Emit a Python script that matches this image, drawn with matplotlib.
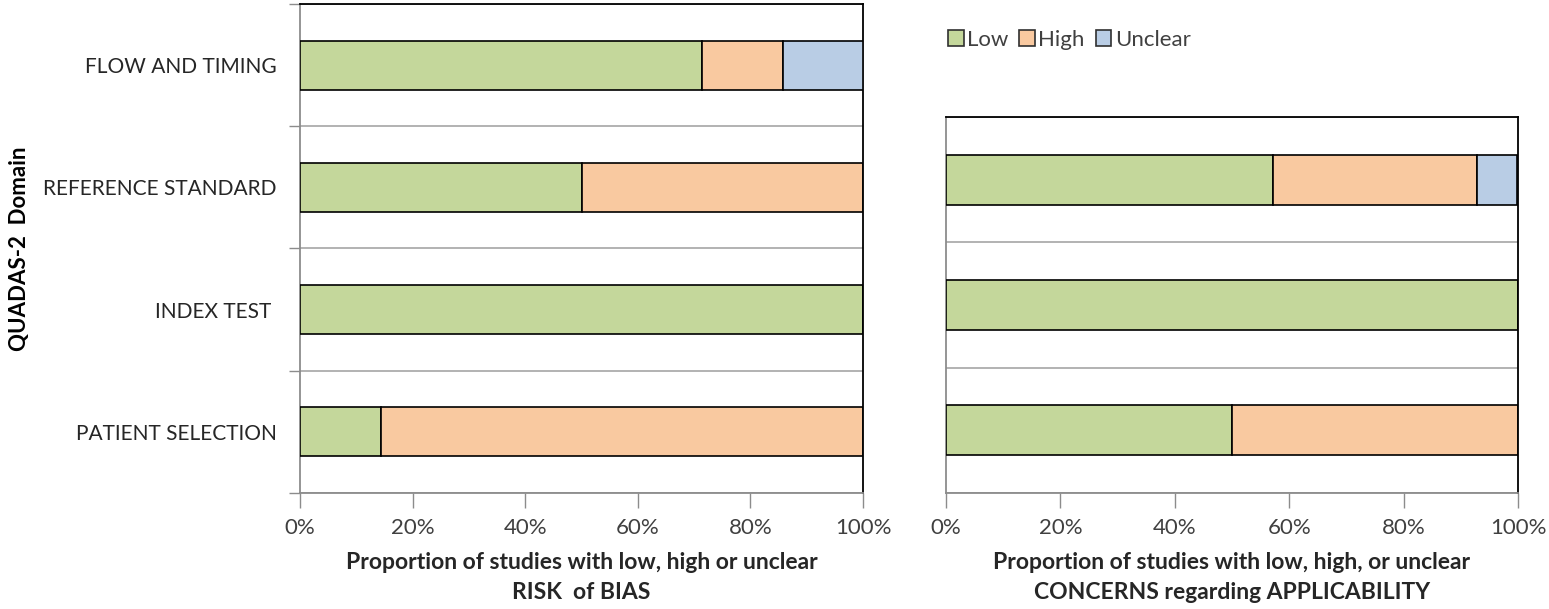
"""QUADAS-2 risk of bias and applicability concerns, stacked bars."""

import numpy as np
import matplotlib
matplotlib.use("Agg")
import matplotlib.pyplot as plt
from matplotlib.patches import Patch
from matplotlib.ticker import FixedLocator, PercentFormatter

plt.rcParams["font.family"] = ["Lato", "DejaVu Sans"]

# risk of bias (bottom to top)
bias_domains = ["PATIENT SELECTION", "INDEX TEST ", "REFERENCE STANDARD", "FLOW AND TIMING"]
bias_low = [14.3, 100.0, 50.0, 71.4]
bias_high = [85.7, 0.0, 50.0, 14.3]
bias_unclear = [0.0, 0.0, 0.0, 14.3]

# applicability concerns (bottom to top)
appl_domains = ["PATIENT SELECTION", "INDEX TEST", "REFERENCE STANDARD"]
appl_low = [50.0, 100.0, 57.1]
appl_high = [50.0, 0.0, 35.7]
appl_unclear = [0.0, 0.0, 7.1]

series_names = ["Low", "High", "Unclear"]
colors = ["#C4D79B", "#F9C9A0", "#B9CDE5"]
GREY = "#8c8c8c"
TXT = "#404040"


def stacked(ax, domains, low, high, unclear):
    y = np.arange(len(domains))
    left = np.zeros(len(domains))
    for vals, c in zip([low, high, unclear], colors):
        vals = np.asarray(vals)
        ax.barh(y, vals, left=left, height=0.4, color=c,
                edgecolor="black", linewidth=1.2, zorder=3)
        left += vals
    ax.set_xlim(0, 100)
    ax.set_ylim(-0.5, len(domains) - 0.5)
    ax.xaxis.set_major_locator(FixedLocator([0, 20, 40, 60, 80, 100]))
    ax.xaxis.set_major_formatter(PercentFormatter(decimals=0))
    ax.tick_params(axis="x", length=11, width=1, color=GREY, direction="out",
                   labelsize=16, labelcolor=TXT, pad=7)
    # boundaries between the categories
    ax.yaxis.set_minor_locator(FixedLocator(np.arange(len(domains) + 1) - 0.5))
    ax.grid(axis="y", which="minor", color="#a6a6a6", linewidth=1.2, zorder=1)
    ax.set_yticks(y)
    for s in ["left", "bottom"]:
        ax.spines[s].set_color(GREY)
        ax.spines[s].set_linewidth(1.3)
    for s in ["top", "right"]:
        ax.spines[s].set_color("black")
        ax.spines[s].set_linewidth(1.3)


fig = plt.figure(figsize=(15.49, 6.09), dpi=100)

ax1 = fig.add_axes([0.1937, 0.1905, 0.3635, 0.8030])
stacked(ax1, bias_domains, bias_low, bias_high, bias_unclear)
ax1.set_yticklabels(bias_domains, fontsize=15, color="#262626")
ax1.tick_params(axis="y", which="major", length=0, pad=17)
ax1.tick_params(axis="y", which="minor", length=8, width=1, color=GREY)
ax1.set_ylabel("QUADAS-2  Domain", fontsize=16, fontweight="bold",
               color="black")
ax1.yaxis.set_label_coords(-0.48, 0.5)
ax1.set_xlabel("Proportion of studies with low, high or unclear\nRISK  of BIAS",
               fontsize=16.5, fontweight="bold", color="#262626",
               linespacing=1.55, labelpad=10)

ax2 = fig.add_axes([0.6107, 0.1905, 0.3693, 0.6174])
stacked(ax2, appl_domains, appl_low, appl_high, appl_unclear)
ax2.set_yticklabels([])
ax2.tick_params(axis="y", which="both", length=0)
ax2.set_xlabel("Proportion of studies with low, high, or unclear\nCONCERNS regarding APPLICABILITY",
               fontsize=16.5, fontweight="bold", color="#262626",
               linespacing=1.55, labelpad=10)

handles = [Patch(facecolor=c, edgecolor="#303030", linewidth=1.2, label=n)
           for c, n in zip(colors, series_names)]
fig.legend(handles=handles, loc="center left",
           bbox_to_anchor=(928 / 1549, 1 - 40 / 609), ncol=3, frameon=False,
           fontsize=16, handlelength=0.7, handleheight=0.7,
           handletextpad=0.15, columnspacing=0.5, labelcolor=TXT)

fig.savefig("out.png", dpi=100)
